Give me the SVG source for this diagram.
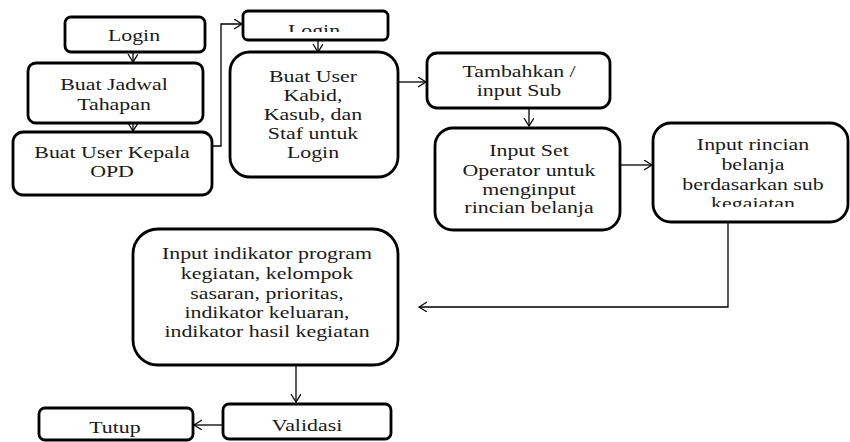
<svg xmlns="http://www.w3.org/2000/svg" width="850" height="442" viewBox="0 0 850 442" font-family="'Liberation Serif', 'DejaVu Serif', 'Times New Roman', serif">
<style>
  .box { fill: #fff; stroke: #000; stroke-width: 2.8; }
  .t { font-family: 'Liberation Serif', 'DejaVu Serif', 'Times New Roman', serif; font-size: 17.5px; fill: #1a1a1a; text-anchor: middle; }
  .c { fill: none; stroke: #000; stroke-width: 1.3; }
</style>
<defs>
  <marker id="ah" markerUnits="userSpaceOnUse" markerWidth="12" markerHeight="12" refX="8" refY="5" orient="auto">
    <path d="M0,0 L8,5 L0,10" fill="none" stroke="#000" stroke-width="1.2"/>
  </marker>
  <clipPath id="clipLogin2"><rect x="240" y="10" width="150" height="22"/></clipPath>
  <clipPath id="clipRincian"><rect x="650" y="120" width="200" height="87"/></clipPath>
</defs>
<rect width="850" height="442" fill="#fff"/>

<g id="connectors">
  <path class="c" d="M133,53 V62" marker-end="url(#ah)"/>
  <path class="c" d="M133,111 V131" marker-end="url(#ah)"/>
  <path class="c" d="M212,146 H221 V24 H242" marker-end="url(#ah)"/>
  <path class="c" d="M318,40 V52" marker-end="url(#ah)"/>
  <path class="c" d="M398,82 H426" marker-end="url(#ah)"/>
  <path class="c" d="M529,108 V126" marker-end="url(#ah)"/>
  <path class="c" d="M620,165 H652" marker-end="url(#ah)"/>
  <path class="c" d="M728,222 V307 H419" marker-end="url(#ah)"/>
  <path class="c" d="M296,365 V402" marker-end="url(#ah)"/>
  <path class="c" d="M223,425 H194" marker-end="url(#ah)"/>
</g>

<g id="login1">
  <rect class="box" x="65" y="17" width="140" height="35" rx="6"/>
  <g transform="translate(134 0) scale(1.25 1)"><text class="t" x="0" y="41">Login</text></g>
</g>

<g id="jadwal">
  <rect class="box" x="28" y="63" width="175" height="60" rx="8"/>
  <g transform="translate(114 0) scale(1.25 1)">
    <text class="t" x="0" y="90">Buat Jadwal</text>
    <text class="t" x="0" y="110">Tahapan</text>
  </g>
</g>

<g id="kepala">
  <rect class="box" x="13" y="132" width="199" height="63" rx="10"/>
  <g transform="translate(112 0) scale(1.25 1)">
    <text class="t" x="0" y="158">Buat User Kepala</text>
    <text class="t" x="0" y="177">OPD</text>
  </g>
</g>

<g id="login2">
  <rect class="box" x="243" y="11" width="145" height="29" rx="5"/>
  <g clip-path="url(#clipLogin2)">
    <g transform="translate(314 0) scale(1.25 1)"><text class="t" x="0" y="36">Login</text></g>
  </g>
</g>

<g id="kabid">
  <rect class="box" x="230" y="52" width="168" height="125" rx="20"/>
  <g transform="translate(313 0) scale(1.25 1)">
    <text class="t" x="0" y="82">Buat User</text>
    <text class="t" x="0" y="101">Kabid,</text>
    <text class="t" x="0" y="120">Kasub, dan</text>
    <text class="t" x="0" y="139">Staf untuk</text>
    <text class="t" x="0" y="158">Login</text>
  </g>
</g>

<g id="tambahkan">
  <rect class="box" x="427" y="53" width="183" height="55" rx="10"/>
  <g transform="translate(519 0) scale(1.25 1)">
    <text class="t" x="0" y="77">Tambahkan /</text>
    <text class="t" x="0" y="96">input Sub</text>
  </g>
</g>

<g id="inputset">
  <rect class="box" x="435" y="128" width="185" height="102" rx="18"/>
  <g transform="translate(529 0) scale(1.25 1)">
    <text class="t" x="0" y="156">Input Set</text>
    <text class="t" x="0" y="176">Operator untuk</text>
    <text class="t" x="0" y="195">menginput</text>
    <text class="t" x="0" y="213">rincian belanja</text>
  </g>
</g>

<g id="rincian">
  <rect class="box" x="653" y="123" width="195" height="99" rx="18"/>
  <g clip-path="url(#clipRincian)">
    <g transform="translate(753 0) scale(1.25 1)">
      <text class="t" x="0" y="150">Input  rincian</text>
      <text class="t" x="0" y="170">belanja</text>
      <text class="t" x="0" y="190">berdasarkan sub</text>
      <text class="t" x="0" y="209">kegaiatan</text>
    </g>
  </g>
</g>

<g id="indikator">
  <rect class="box" x="133" y="229" width="265" height="136" rx="25"/>
  <g transform="translate(267 0) scale(1.25 1)">
    <text class="t" x="0" y="259">Input indikator program</text>
    <text class="t" x="0" y="279">kegiatan, kelompok</text>
    <text class="t" x="0" y="299">sasaran, prioritas,</text>
    <text class="t" x="0" y="318">indikator keluaran,</text>
    <text class="t" x="0" y="337">indikator hasil kegiatan</text>
  </g>
</g>

<g id="validasi">
  <rect class="box" x="223" y="404" width="168" height="35" rx="6"/>
  <g transform="translate(307 0) scale(1.25 1)"><text class="t" x="0" y="431">Validasi</text></g>
</g>

<g id="tutup">
  <rect class="box" x="39" y="408" width="154" height="32" rx="6"/>
  <g transform="translate(115 0) scale(1.25 1)"><text class="t" x="0" y="433">Tutup</text></g>
</g>
</svg>
